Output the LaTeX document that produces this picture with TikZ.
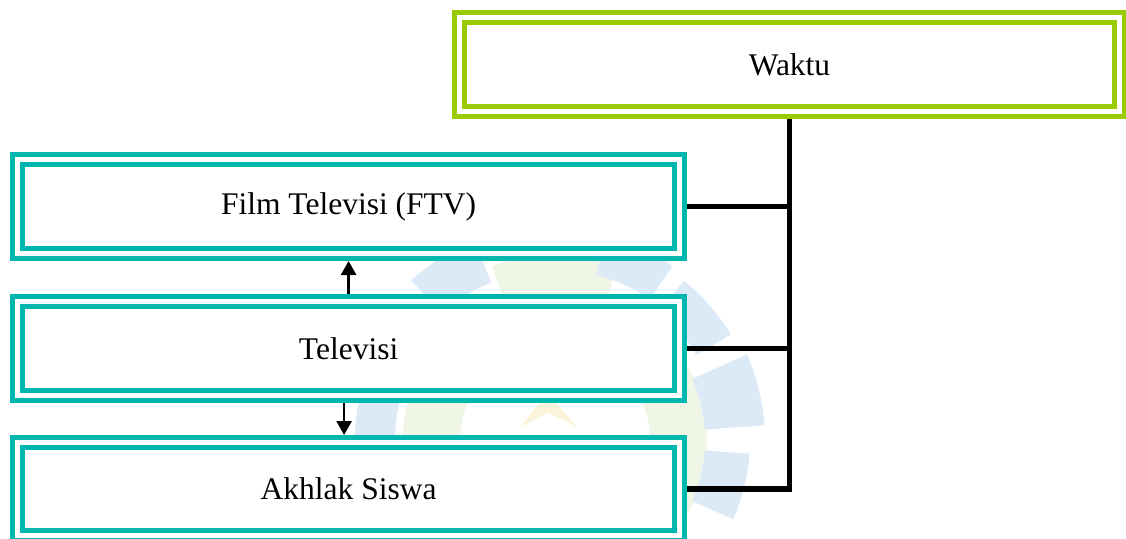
\documentclass[tikz,border=0pt]{standalone}
\usepackage{fontspec}
\setmainfont{Liberation Serif}
\usetikzlibrary{arrows.meta}
\definecolor{tealbox}{RGB}{0,183,175}
\definecolor{limebox}{RGB}{153,204,0}
\definecolor{wmblue}{RGB}{220,234,247}
\definecolor{wmgreen}{RGB}{240,246,229}
\definecolor{wmyellow}{RGB}{252,244,218}
\begin{document}
\begin{tikzpicture}[x=1pt,y=-1pt,
  dbox/.style={draw=#1, line width=5pt, double=white, double distance=5pt,
    fill=white, minimum width=661.75pt, minimum height=94pt, inner sep=0pt,
    outer sep=7.5pt, font=\fontsize{31.5}{38}\selectfont},
  conn/.style={draw=black, line width=5.5pt},
  arr/.style={draw=black, line width=2.5pt, -{Triangle[length=14pt,width=15pt]}},
  wmseg/.style={fill=wmblue}]
\useasboundingbox (0,0) rectangle (1126,538);
\clip (0,0) rectangle (1126,538);
% faint background watermark
\begin{scope}[shift={(555,440)}, y=1pt]
  \fill[wmgreen, even odd rule] (0,0) circle[radius=152] (0,0) circle[radius=95];
  \fill[wmgreen] (70:150) arc[start angle=70, end angle=110, radius=150]
    -- (110:185) arc[start angle=110, end angle=70, radius=185] -- cycle;
  \foreach \a/\ri/\ro in {-14/150/195,14/150/210,41/165/205,66/170/210,122/170/215,148/170/215,176/160/200,202/160/200}{
    \fill[wmseg] (\a-10:\ri) arc[start angle=\a-10, end angle=\a+10, radius=\ri]
      -- (\a+10:\ro) arc[start angle=\a+10, end angle=\a-10, radius=\ro] -- cycle;
  }
\end{scope}
\fill[wmyellow] (520,427) -- (548,393) -- (577,427) -- (548,413) -- cycle;
% boxes
\node[dbox=limebox, minimum width=660.5pt] (waktu) at (789.5,64.5) {Waktu};
\node[dbox=tealbox] (film) at (348.6,206.5) {Film Televisi (FTV)};
\node[dbox=tealbox] (tv) at (348.6,348.25) {Televisi};
\node[dbox=tealbox, minimum height=93pt] (ak) at (348.6,489) {Akhlak Siswa};
% connectors
\draw[conn] (waktu.south) |- (ak.east);
\draw[conn] (film.east) -- (film.east -| waktu.south);
\draw[conn] (tv.east) -- (tv.east -| waktu.south);
\draw[arr] (tv.north) -- (film.south);
\draw[arr] ([xshift=-4.5pt]tv.south) -- ([xshift=-4.5pt]ak.north);
\end{tikzpicture}
\end{document}
